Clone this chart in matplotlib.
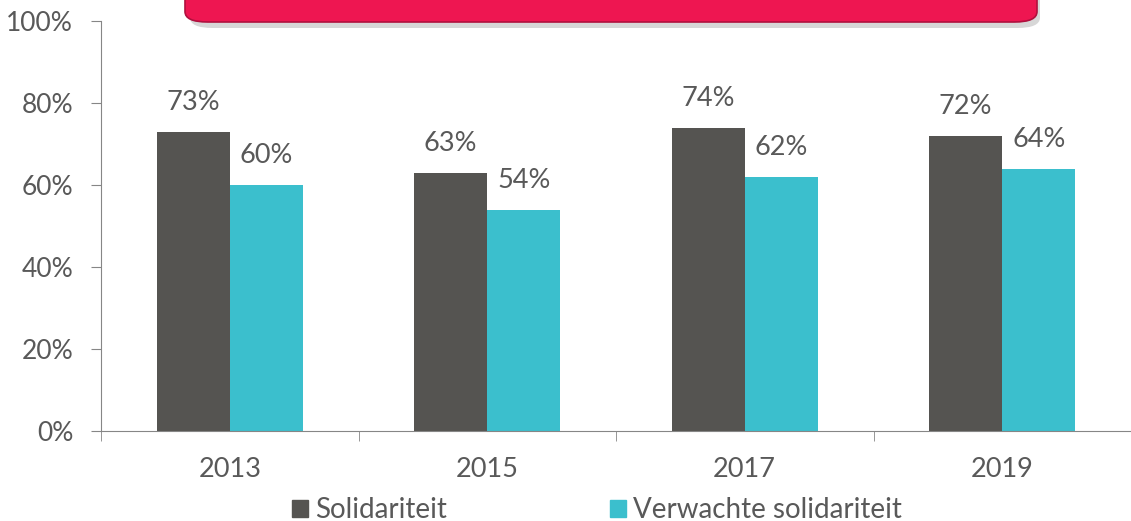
import matplotlib
matplotlib.use("Agg")
import matplotlib.pyplot as plt
from matplotlib.patches import FancyBboxPatch, Rectangle
import numpy as np

plt.rcParams['font.family'] = ['Lato', 'DejaVu Sans']

years = ["2013", "2015", "2017", "2019"]
solidariteit = [73, 63, 74, 72]
verwacht = [60, 54, 62, 64]
series_names = ["Solidariteit", "Verwachte solidariteit"]
yticks = [0, 20, 40, 60, 80, 100]

DARK = "#555451"
CYAN = "#3bbfcd"
GREY = "#595959"
PINK = "#ee1651"

fig = plt.figure(figsize=(11.31, 5.21), dpi=100)
ax = fig.add_axes([101 / 1131, 1 - 431 / 521, 1030 / 1131, 410 / 521])

x = np.arange(len(years))
w = 0.284
b1 = ax.bar(x - w / 2, solidariteit, w, color=DARK, label=series_names[0])
b2 = ax.bar(x + w / 2, verwacht, w, color=CYAN, label=series_names[1])

for bars, vals in ((b1, solidariteit), (b2, verwacht)):
    for r, v in zip(bars, vals):
        ax.annotate(f"{v}%", (r.get_x() + r.get_width() / 2, v),
                    xytext=(0, 21), textcoords="offset points",
                    ha="center", va="center", fontsize=19.5, color=GREY)

ax.set_xlim(-0.5, len(years) - 0.5)
ax.set_ylim(0, 100)
ax.set_yticks(yticks)
ax.set_yticklabels([f"{t}%" for t in yticks], fontsize=19, color=GREY)
ax.set_xticks(x)
ax.set_xticklabels(years, fontsize=19.5, color=GREY)
ax.tick_params(axis="x", length=0, pad=19)
ax.set_xticks(np.arange(-0.5, len(years) + 0.5, 1), minor=True)
ax.tick_params(axis="x", which="minor", length=7, color="#868686", direction="out")
ax.tick_params(axis="y", length=7, color="#868686", direction="out", pad=13)
for s in ("top", "right"):
    ax.spines[s].set_visible(False)
ax.spines["left"].set_color("#868686")
ax.spines["bottom"].set_color("#868686")

# legend
handles = [Rectangle((0, 0), 1, 1, color=DARK), Rectangle((0, 0), 1, 1, color=CYAN)]
fig.legend(handles, series_names, loc="center", bbox_to_anchor=(597 / 1131, 1 - 510 / 521),
           ncol=2, frameon=False, fontsize=20, labelcolor=GREY, handlelength=0.55,
           handleheight=0.55, handletextpad=0.25, columnspacing=5.9, borderpad=0)

# title banner (clipped at top of image)
shadow = FancyBboxPatch((190 / 1131, 1 - 28 / 521), 850 / 1131, 60 / 521,
                        boxstyle="round,pad=0,rounding_size=0.02", transform=fig.transFigure,
                        facecolor="#bdbdbd", edgecolor="none", alpha=0.6, zorder=1)
banner = FancyBboxPatch((185 / 1131, 1 - 22 / 521), 852 / 1131, 60 / 521,
                        boxstyle="round,pad=0,rounding_size=0.02", transform=fig.transFigure,
                        facecolor=PINK, edgecolor="#b0103e", linewidth=1.2, zorder=2)
fig.patches.extend([shadow, banner])

fig.savefig("out.png", dpi=100)
